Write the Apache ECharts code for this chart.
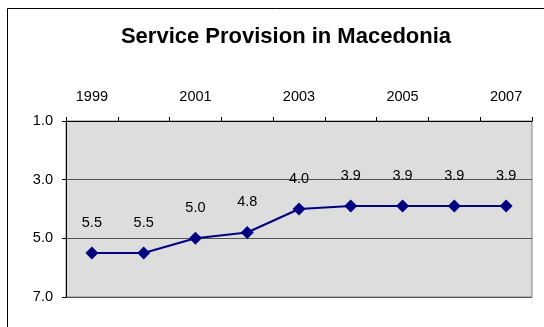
<!DOCTYPE html>
<html><head><meta charset="utf-8">
<script src="https://cdn.jsdelivr.net/npm/echarts@6/dist/echarts.min.js"></script>
<style>html,body{margin:0;padding:0;background:#fff}#c{width:544px;height:327px}</style>
</head><body><div id="c"></div>
<script>
const titleText = 'Service Provision in Macedonia';
const years = ['1999', '2000', '2001', '2002', '2003', '2004', '2005', '2006', '2007'];
const values = [5.5, 5.5, 5.0, 4.8, 4.0, 3.9, 3.9, 3.9, 3.9];
const yTicks = [1, 3, 5, 7];

const chart = echarts.init(document.getElementById('c'));
const font = 'Liberation Sans, Arial, sans-serif';
chart.setOption({
  animation: false,
  backgroundColor: '#fff',
  title: {
    text: titleText, top: 21, left: 281, textAlign: 'center',
    textStyle: { fontFamily: font, fontSize: 22, fontWeight: 'bold', color: '#000' }
  },
  graphic: [{
    type: 'rect', shape: { x: 7.5, y: 8.5, width: 600, height: 400 },
    style: { fill: 'none', stroke: '#000', lineWidth: 1 }, silent: true, z: -1
  }],
  grid: { left: 66, top: 121, right: 12, bottom: 30, show: true,
    backgroundColor: '#DDDDDD', borderColor: '#808080', borderWidth: 1 },
  xAxis: {
    type: 'category', position: 'top', data: years, boundaryGap: true,
    axisLine: { lineStyle: { color: '#000', width: 1 } },
    axisTick: { show: true, interval: 0, length: 4, inside: false, lineStyle: { color: '#000' } },
    axisLabel: { interval: 1, margin: 17, fontFamily: font, fontSize: 14.5, color: '#000' },
    splitLine: { show: false }
  },
  yAxis: {
    type: 'value', inverse: true, min: yTicks[0], max: yTicks[yTicks.length-1], interval: 2,
    axisLine: { show: true, lineStyle: { color: '#000', width: 1 } },
    axisTick: { show: true, length: 4, lineStyle: { color: '#000' } },
    axisLabel: { margin: 13, fontFamily: font, fontSize: 14.5, color: '#000', formatter: v => v.toFixed(1) },
    splitLine: { show: true, lineStyle: { color: '#555', width: 1 } }
  },
  series: [{
    type: 'line', data: values,
    symbol: 'diamond', symbolSize: 13,
    lineStyle: { color: '#000080', width: 2 },
    itemStyle: { color: '#000080' },
    label: { show: true, position: 'top', distance: 16, fontFamily: font, fontSize: 14.5, color: '#000',
      formatter: p => p.value.toFixed(1) }
  }]
});
</script></body></html>
